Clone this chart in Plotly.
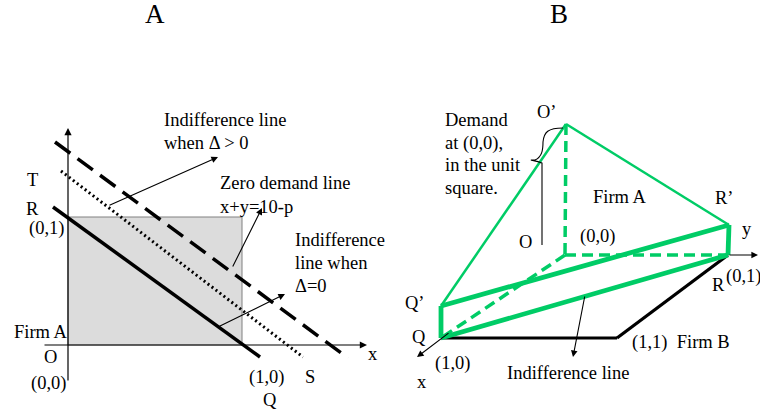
import plotly.graph_objects as go

# ---------------- data (diagram coordinates, y grows downward) ----------------
# Panel A
A_y_axis = [(68, 382), (68, 128)]
A_x_axis = [(43, 345), (367, 345)]
A_unit_square = [(68, 217), (242, 345)]
A_line_solid = [(53, 207), (260, 357)]      # R-Q indifference line, delta = 0
A_line_dotted = [(61, 171), (303, 357)]     # T-S zero demand line
A_line_dashed = [(55, 142), (348, 358)]     # indifference line, delta > 0
A_pointers = [((108, 206), (218, 157)), ((232, 268), (262, 208)), ((218, 327), (285, 294))]

# Panel B
B_pts = {
    "O1": (566, 124), "Q1": (441, 306), "Q": (441, 338), "R1": (729, 225),
    "R": (728, 255), "P11": (617, 338), "O": (565, 255),
}
B_thin_green = [("Q1", "O1"), ("O1", "R1")]
B_thick_green = [("Q1", "R1"), ("Q", "R"), ("Q", "Q1"), ("R", "R1")]
B_dashed_green = [("O1", "O"), ("O", "R"), ("O", "Q")]
B_black = [("Q", "P11"), ("P11", "R")]
B_pointers = [((450, 332), (417, 357)), ((728, 255), (758, 255)), ((585, 295), (573, 357))]
B_brace = [(563, 128), (548, 128), (544, 132), (543, 142), (543, 150), (542, 157), (535, 160),
           (526, 160), (535, 160), (542, 163), (542, 172), (542, 238), (542, 245), (548, 248), (562, 248)]

# Labels: (text, x, y, anchor, size)
labels = [
    ("A", 155, 14, "center", 27),
    ("Indifference line", 162, 120, "left", 18.5),
    ("when Δ > 0", 162, 143, "left", 18.5),
    ("Zero demand line", 218, 183, "left", 18.5),
    ("x+y=10-p", 218, 207, "left", 18.5),
    ("Indifference", 293, 240, "left", 18.5),
    ("line when", 293, 263, "left", 18.5),
    ("Δ=0", 293, 286, "left", 18.5),
    ("T", 32, 180, "center", 18.5),
    ("R", 32, 209, "center", 18.5),
    ("(0,1)", 46, 228, "center", 18.5),
    ("Firm A", 12, 332, "left", 18.5),
    ("O", 50, 357, "center", 18.5),
    ("(0,0)", 48, 383, "center", 18.5),
    ("(1,0)", 266, 377, "center", 18.5),
    ("S", 310, 377, "center", 18.5),
    ("Q", 270, 400, "center", 18.5),
    ("x", 373, 354, "center", 18.5),
    ("B", 559, 14, "center", 27),
    ("Demand", 443, 120, "left", 18.5),
    ("at (0,0),", 443, 143, "left", 18.5),
    ("in the unit", 443, 165, "left", 18.5),
    ("square.", 443, 188, "left", 18.5),
    ("O’", 547, 112, "center", 18.5),
    ("Firm A", 620, 197, "center", 18.5),
    ("R’", 724, 198, "center", 18.5),
    ("y", 747, 229, "center", 18.5),
    ("O", 525, 242, "center", 18.5),
    ("(0,0)", 597, 236, "center", 18.5),
    ("R", 718, 285, "center", 18.5),
    ("(0,1)", 743, 276, "center", 18.5),
    ("Q’", 415, 303, "center", 18.5),
    ("Q", 419, 337, "center", 18.5),
    ("(1,0)", 452, 363, "center", 18.5),
    ("x", 422, 382, "center", 18.5),
    ("(1,1)  Firm B", 630, 342, "left", 18.5),
    ("Indifference line", 568, 373, "center", 18.5),
]

GREEN = "#00cc66"
FONT = "Liberation Serif"

fig = go.Figure()
shapes = []
annotations = []


def seg(p, q, color="black", width=1.0, dash="solid"):
    shapes.append(dict(type="line", x0=p[0], y0=p[1], x1=q[0], y1=q[1],
                       xref="x", yref="y", line=dict(color=color, width=width, dash=dash)))


def arrow(tail, head, width=1.0, size=1.0):
    annotations.append(dict(x=head[0], y=head[1], ax=tail[0], ay=tail[1], xref="x", yref="y",
                            axref="x", ayref="y", text="", showarrow=True, arrowhead=2,
                            arrowsize=size, arrowwidth=width, arrowcolor="black", standoff=0))


# Panel A
(sx0, sy0), (sx1, sy1) = A_unit_square
shapes.append(dict(type="rect", x0=sx0, y0=sy0, x1=sx1, y1=sy1, xref="x", yref="y",
                   fillcolor="#dcdcdc", line=dict(color="#808080", width=1), layer="below"))
arrow(A_y_axis[0], A_y_axis[1], width=1.2, size=1.2)
arrow(A_x_axis[0], A_x_axis[1], width=1.2, size=1.2)
seg(*A_line_solid, width=3.5)
seg(*A_line_dotted, width=3, dash="2px,3px")
seg(*A_line_dashed, width=3.5, dash="19px,9px")
for t, h in A_pointers:
    arrow(t, h, width=1.1, size=1.2)

# Panel B
for a, b in B_black:
    seg(B_pts[a], B_pts[b], width=3.2)
for a, b in B_dashed_green:
    seg(B_pts[a], B_pts[b], color=GREEN, width=3.5, dash="11px,6px")
for a, b in B_thin_green:
    seg(B_pts[a], B_pts[b], color=GREEN, width=2.5)
for a, b in B_thick_green:
    seg(B_pts[a], B_pts[b], color=GREEN, width=4.8)
for t, h in B_pointers:
    arrow(t, h, width=1.1, size=1.2)

bp = B_brace
path = "M %g,%g" % bp[0]
for i in range(1, len(bp), 3):
    if i + 2 < len(bp):
        path += " C %g,%g %g,%g %g,%g" % (*bp[i], *bp[i + 1], *bp[i + 2])
shapes.append(dict(type="path", path=path, xref="x", yref="y", line=dict(color="black", width=1.1)))

for text, x, y, anchor, size in labels:
    annotations.append(dict(x=x, y=y, text=text, showarrow=False, xref="x", yref="y",
                            xanchor=anchor, yanchor="middle",
                            font=dict(family=FONT, size=size, color="black")))

W, H = 760, 409
fig.update_layout(
    width=W, height=H, margin=dict(l=0, r=0, t=0, b=0),
    paper_bgcolor="white", plot_bgcolor="white",
    xaxis=dict(range=[0, W], visible=False, fixedrange=True),
    yaxis=dict(range=[H, 0], visible=False, fixedrange=True),
    shapes=shapes, annotations=annotations, showlegend=False,
)
fig.write_html(
    "out.html",
    config={"displayModeBar": False, "staticPlot": True},
    post_script="document.body.style.margin='0px';document.body.style.overflow='hidden';",
)
